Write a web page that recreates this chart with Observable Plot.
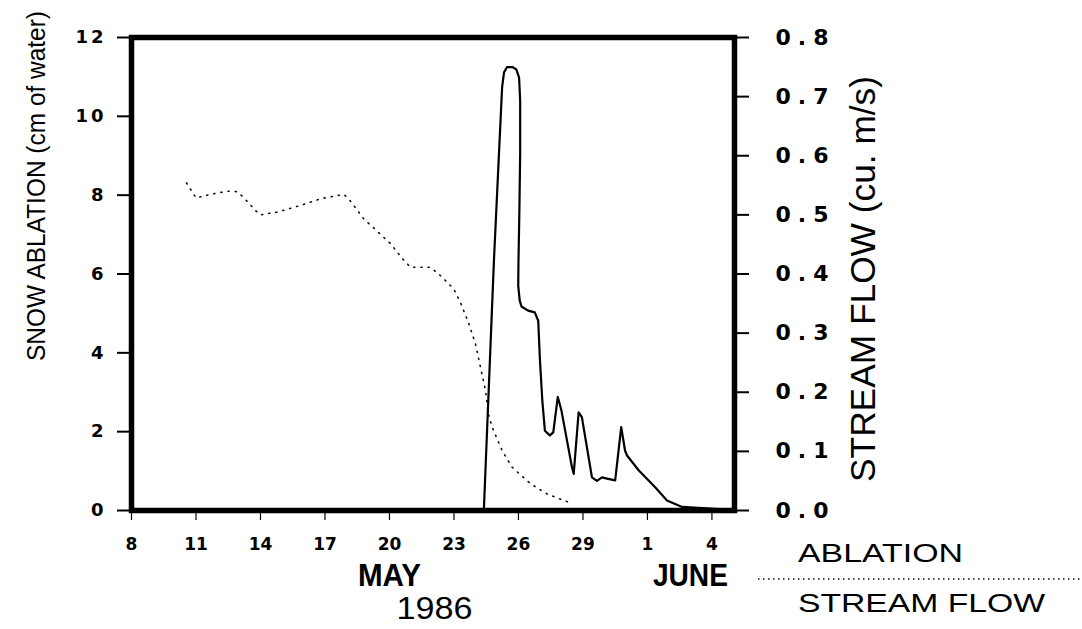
<!DOCTYPE html>
<html>
<head>
<meta charset="utf-8">
<script src="https://cdn.jsdelivr.net/npm/d3@7"></script>
<script src="https://cdn.jsdelivr.net/npm/@observablehq/plot@0.6"></script>
<style>
  html, body { margin: 0; padding: 0; background: white; }
  #chart svg { display: block; }
</style>
</head>
<body>
<div id="chart"></div>
<script>
// ---- Data (x = day counted from May 1; June 1 = 32) ----
const ablationDay   = [10.56, 11.0, 11.67, 12.45, 12.9, 13.2, 13.77, 14.0, 14.78, 15.86, 16.8, 17.87, 18.1, 18.8, 19.4, 20.05, 20.6, 20.98, 21.9, 22.37, 22.99, 23.3, 23.69, 24.0, 24.23, 24.47, 24.6, 24.78, 25.24, 25.7, 26.56, 27.33, 28.34];
const ablationValue = [8.31, 7.93, 8.02, 8.10, 8.09, 7.95, 7.61, 7.50, 7.57, 7.74, 7.91, 8.02, 7.91, 7.40, 7.10, 6.77, 6.39, 6.17, 6.17, 5.96, 5.62, 5.28, 4.74, 4.23, 3.64, 3.04, 2.45, 2.11, 1.52, 1.10, 0.68, 0.42, 0.21];

const flowDay   = [24.39, 24.86, 25.24, 25.33, 25.47, 25.72, 25.90, 26.03, 26.08, 26.08, 26.04, 26.00, 25.99, 26.06, 26.14, 26.45, 26.76, 26.92, 27.00, 27.11, 27.23, 27.46, 27.62, 27.83, 28.00, 28.49, 28.57, 28.80, 28.95, 29.42, 29.65, 29.88, 30.12, 30.50, 30.78, 30.96, 31.05, 31.59, 32.37, 32.91, 33.61, 35.16, 36.0];
const flowValue = [0.000, 0.423, 0.716, 0.741, 0.750, 0.750, 0.746, 0.732, 0.693, 0.604, 0.500, 0.420, 0.380, 0.355, 0.345, 0.338, 0.335, 0.321, 0.254, 0.186, 0.135, 0.127, 0.132, 0.192, 0.169, 0.073, 0.062, 0.166, 0.158, 0.056, 0.050, 0.056, 0.054, 0.051, 0.141, 0.101, 0.093, 0.068, 0.039, 0.017, 0.006, 0.003, 0.001];

const xTicks      = [8, 11, 14, 17, 20, 23, 26, 29, 32, 35];
const xTickLabels = ["8", "11", "14", "17", "20", "23", "26", "29", "1", "4"];
const leftTicks   = [0, 2, 4, 6, 8, 10, 12];
const rightTicks  = [0, 0.1, 0.2, 0.3, 0.4, 0.5, 0.6, 0.7, 0.8];
const rightTickLabels = ["0.0", "0.1", "0.2", "0.3", "0.4", "0.5", "0.6", "0.7", "0.8"];
const monthLabels = [{day: 20, text: "MAY"}, {day: 34, text: "JUNE"}];
const yearLabel   = {day: 22.1, text: "1986"};

const flowScale = 12 / 0.8; // right axis (0–0.8) mapped onto left axis (0–12)

const ablation = ablationDay.map((d, i) => ({day: d, value: ablationValue[i]}));
const flow = flowDay.map((d, i) => ({day: d, flow: flowValue[i]}));

const chart = Plot.plot({
  width: 1082,
  height: 629,
  marginTop: 37,
  marginBottom: 119,
  marginLeft: 131,
  marginRight: 348,
  x: {domain: [8, 36.05]},
  y: {domain: [0, 12]},
  style: {fontFamily: "DejaVu Sans", background: "white", color: "black"},
  marks: [
    Plot.line(ablation, {x: "day", y: "value", stroke: "#111", strokeWidth: 1.6, strokeDasharray: "1.2,6"}),
    Plot.line(flow, {x: "day", y: d => d.flow * flowScale, stroke: "black", strokeWidth: 2.2, strokeLinejoin: "round"}),
    Plot.axisY(leftTicks, {anchor: "left", tickSize: 14, tickPadding: 11, strokeWidth: 2,
      fontSize: 18, fontWeight: "bold", label: null, tickFormat: d => String(d)}),
    Plot.axisY(rightTicks.map(v => v * flowScale), {anchor: "right", tickSize: 14, tickPadding: 27, strokeWidth: 2,
      fontSize: 22, fontWeight: "bold", label: null, tickFormat: (d, i) => rightTickLabels[i]}),
    Plot.axisX(xTicks, {anchor: "bottom", tickSize: 10, tickPadding: 17, strokeWidth: 1.2,
      fontSize: 17, fontWeight: "bold", label: null, tickFormat: (d, i) => xTickLabels[i]}),
    Plot.frame({stroke: "black", strokeWidth: 5.5}),
    Plot.text(monthLabels, {x: "day", text: "text", frameAnchor: "bottom", dy: 75,
      fontSize: 31, fontFamily: "Liberation Sans", fontWeight: "bold", lineAnchor: "bottom"}),
    Plot.text([yearLabel], {x: "day", text: "text", frameAnchor: "bottom", dy: 108,
      fontSize: 31, fontFamily: "Liberation Sans", lineAnchor: "bottom"})
  ]
});

document.getElementById("chart").appendChild(chart);

const svg = d3.select(chart);

// letter spacing on y tick labels (left then right axis)
const yLabelGroups = svg.selectAll('g[aria-label="y-axis tick label"]').nodes();
if (yLabelGroups[0]) d3.select(yLabelGroups[0]).selectAll("text").style("letter-spacing", "3px");
if (yLabelGroups[1]) d3.select(yLabelGroups[1]).selectAll("text").style("letter-spacing", "7px");

// month / year label widths
svg.selectAll('g[aria-label="text"] text').each(function() {
  const t = d3.select(this).text();
  const len = {"MAY": 63, "JUNE": 75, "1986": 76}[t];
  if (len) d3.select(this).attr("textLength", len).attr("lengthAdjust", "spacingAndGlyphs");
});

function addText(x, y, txt, size, len, rotate, weight) {
  const el = svg.append("text")
    .attr("transform", `translate(${x},${y})` + (rotate ? " rotate(-90)" : ""))
    .attr("text-anchor", rotate ? "middle" : "start")
    .attr("font-family", "Liberation Sans")
    .attr("font-size", size)
    .attr("font-weight", weight || "normal")
    .attr("fill", "black")
    .text(txt);
  if (len) el.attr("textLength", len).attr("lengthAdjust", "spacingAndGlyphs");
  return el;
}

// axis titles
addText(45, 186, "SNOW ABLATION (cm of water)", 25, 350, true);
addText(875, 279, "STREAM FLOW (cu. m/s)", 35, 406, true);

// legend
addText(798, 562, "ABLATION", 26, 165, false);
svg.append("line")
  .attr("x1", 758).attr("x2", 1082).attr("y1", 579).attr("y2", 579)
  .attr("stroke", "#111").attr("stroke-width", 1.5).attr("stroke-dasharray", "1.5,3.5");
addText(798, 612, "STREAM FLOW", 26, 247, false);
</script>
</body>
</html>
